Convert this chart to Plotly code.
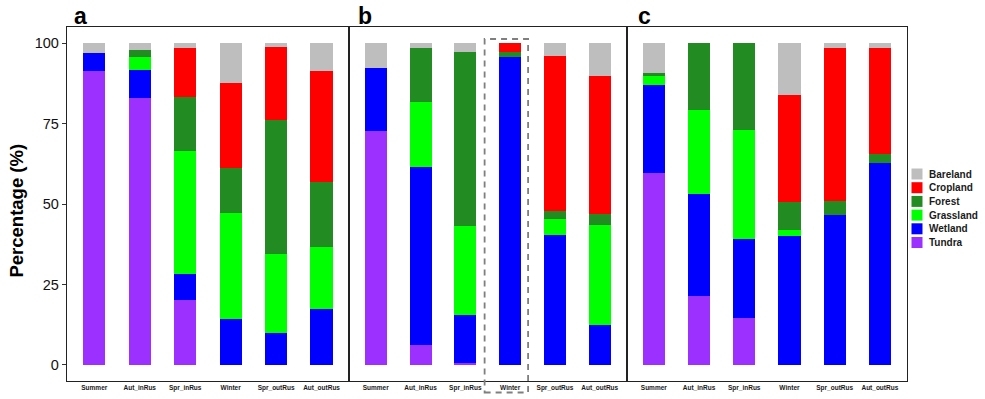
import plotly.graph_objects as go

categories = ["Summer", "Aut_inRus", "Spr_inRus", "Winter", "Spr_outRus", "Aut_outRus"]
classes = ["Tundra", "Wetland", "Grassland", "Forest", "Cropland", "Bareland"]
colors = {"Tundra": "#9B30FF", "Wetland": "#0000FF", "Grassland": "#00FF00",
          "Forest": "#228B22", "Cropland": "#FF0000", "Bareland": "#BEBEBE"}

# Panel a
a_tundra = [91.3, 82.9, 20.1, 0.0, 0.0, 0.0]
a_wetland = [5.6, 8.7, 8.0, 14.3, 9.9, 17.3]
a_grassland = [0.0, 4.1, 38.4, 32.8, 24.6, 19.2]
a_forest = [0.0, 2.3, 16.8, 14.1, 41.6, 20.3]
a_cropland = [0.0, 0.0, 15.3, 26.4, 22.8, 34.4]
a_bareland = [3.1, 2.0, 1.4, 12.4, 1.1, 8.8]

# Panel b
b_tundra = [72.7, 6.1, 0.6, 0.0, 0.0, 0.0]
b_wetland = [19.7, 55.5, 14.8, 95.8, 40.4, 12.4]
b_grassland = [0.0, 20.1, 27.7, 0.0, 5.0, 31.2]
b_forest = [0.0, 16.8, 54.1, 1.4, 2.4, 3.3]
b_cropland = [0.0, 0.0, 0.0, 2.8, 48.2, 42.9]
b_bareland = [7.6, 1.5, 2.8, 0.0, 4.0, 10.2]

# Panel c
c_tundra = [59.7, 21.3, 14.7, 0.0, 0.0, 0.0]
c_wetland = [27.3, 31.7, 24.3, 40.2, 46.7, 62.6]
c_grassland = [3.0, 26.2, 34.1, 1.7, 0.0, 0.0]
c_forest = [0.6, 20.8, 26.9, 8.8, 4.2, 2.8]
c_cropland = [0.0, 0.0, 0.0, 33.2, 47.6, 33.0]
c_bareland = [9.4, 0.0, 0.0, 16.1, 1.5, 1.6]

y_ticks = [0, 25, 50, 75, 100]
panel_labels = ["a", "b", "c"]
legend_order = ["Bareland", "Cropland", "Forest", "Grassland", "Wetland", "Tundra"]

panels = [
    dict(zip(classes, [a_tundra, a_wetland, a_grassland, a_forest, a_cropland, a_bareland])),
    dict(zip(classes, [b_tundra, b_wetland, b_grassland, b_forest, b_cropland, b_bareland])),
    dict(zip(classes, [c_tundra, c_wetland, c_grassland, c_forest, c_cropland, c_bareland])),
]

W, H = 985, 399
L, R, T, B = 67, 907.5, 27, 381
FONT = "Liberation Sans, Arial, sans-serif"


def px_x(p):
    return (p - L) / (R - L)


def px_y(p):
    return (B - p) / (B - T)


fig = go.Figure()
axis_suffix = ["", "2", "3"]
for i, pdata in enumerate(panels):
    for cls in classes:
        fig.add_trace(go.Bar(
            x=categories, y=pdata[cls], name=cls,
            marker=dict(color=colors[cls], line=dict(width=0)),
            xaxis="x" + axis_suffix[i], yaxis="y" + axis_suffix[i],
            showlegend=False,
        ))

bounds = [67, 349, 627, 907.5]
layout = dict(
    template="none",
    width=W, height=H,
    margin=dict(l=L, r=W - R, t=T, b=H - B, pad=0, autoexpand=False),
    barmode="stack", bargap=0.51,
    plot_bgcolor="white", paper_bgcolor="white",
    font=dict(family=FONT, color="#111111"),
)
for i in range(3):
    s = axis_suffix[i]
    layout["xaxis" + s] = dict(
        domain=[px_x(bounds[i]), px_x(bounds[i + 1])], automargin=False,
        range=[-0.6, 5.6], showline=True, mirror=True, linecolor="#222222", linewidth=1.3,
        showgrid=False, zeroline=False, ticks="", anchor="y" + s,
        tickfont=dict(size=6.5, family=FONT, weight="bold", color="#1a1a1a"),
        tickangle=0,
    )
    layout["yaxis" + s] = dict(
        range=[-5, 105], showline=True, mirror=True, linecolor="#222222", linewidth=1.3,
        showgrid=False, zeroline=False, anchor="x" + s, automargin=False,
        tickvals=y_ticks, showticklabels=(i == 0),
        ticks="outside" if i == 0 else "", ticklen=4, tickcolor="#333333", tickwidth=1,
        tickfont=dict(size=14.5, family=FONT, color="#111111"),
    )
fig.update_layout(**layout)

annotations = []
label_px = [72, 356.5, 636]
for lab, xp in zip(panel_labels, label_px):
    annotations.append(dict(
        text=lab, xref="paper", yref="paper", x=px_x(xp), y=px_y(31),
        xanchor="left", yanchor="bottom", showarrow=False,
        font=dict(size=23, family=FONT, weight="bold", color="#000000"),
    ))
annotations.append(dict(
    text="Percentage (%)", xref="paper", yref="paper", x=px_x(15.5), y=px_y(211),
    xanchor="center", yanchor="middle", textangle=-90, showarrow=False,
    font=dict(size=18.5, family=FONT, weight="bold", color="#000000"),
))

shapes = []
# legend swatches and labels
for k, cls in enumerate(legend_order):
    cy = 174 + 13.7 * k
    shapes.append(dict(type="rect", xref="paper", yref="paper",
                       x0=px_x(912), x1=px_x(923), y0=px_y(cy + 5.5), y1=px_y(cy - 5.5),
                       fillcolor=colors[cls], line=dict(width=0)))
    annotations.append(dict(
        text=cls, xref="paper", yref="paper", x=px_x(927.5), y=px_y(cy),
        xanchor="left", yanchor="middle", showarrow=False,
        font=dict(size=10, family=FONT, weight="bold", color="#1a1a1a"),
    ))

# dashed highlight box around Winter in panel b
shapes.append(dict(type="rect", xref="x2", yref="paper",
                   x0=2.43, x1=3.40, y0=px_y(392.5), y1=px_y(39),
                   line=dict(color="#7f7f7f", width=1.8, dash="6px,5px"),
                   fillcolor="rgba(0,0,0,0)", layer="above"))

fig.update_layout(annotations=annotations, shapes=shapes)
fig.write_html("out.html", config={"displayModeBar": False},
               post_script="document.body.style.margin='0';")
